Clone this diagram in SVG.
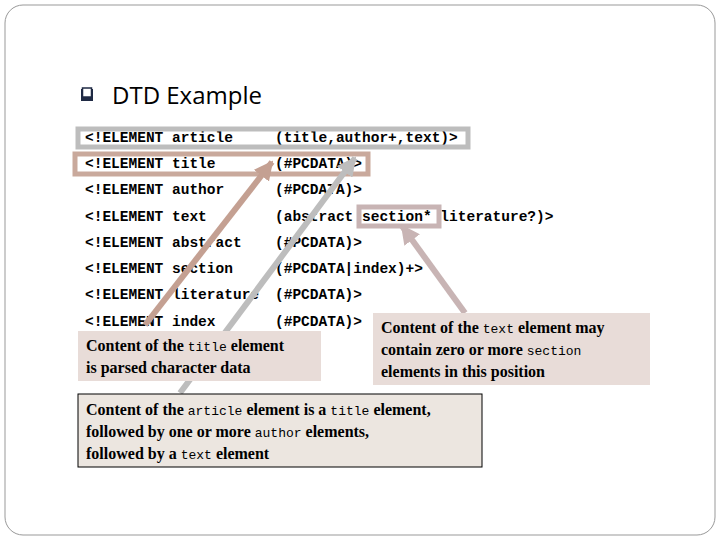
<svg xmlns="http://www.w3.org/2000/svg" width="720" height="540" viewBox="0 0 720 540">
<style>
.code{font-family:"Liberation Mono",monospace;font-weight:bold;font-size:14.5px;fill:#000}
.note{font-family:"Liberation Serif",serif;font-weight:bold;font-size:16px;fill:#000}
.m{font-family:"Liberation Mono",monospace;font-weight:normal;font-size:13px}
</style>
<defs>
<marker id="ht" viewBox="0 0 10 10" refX="9" refY="5" markerWidth="3.2" markerHeight="3.2" orient="auto"><path d="M0,0L10,5L0,10z" fill="#c4a092"/></marker>
<marker id="hg" viewBox="0 0 10 10" refX="9" refY="5" markerWidth="3.2" markerHeight="3.2" orient="auto"><path d="M0,0L10,5L0,10z" fill="#bdbdbd"/></marker>
<marker id="hs" viewBox="0 0 10 10" refX="9" refY="5" markerWidth="3.2" markerHeight="3.2" orient="auto"><path d="M0,0L10,5L0,10z" fill="#c8b4b4"/></marker>
</defs>
<rect x="5" y="5" width="710" height="530" rx="18" fill="#fff" stroke="#999" stroke-width="1"/>
<g id="title">
<rect x="81" y="89" width="12" height="12" fill="#1f2a44"/>
<rect x="82.5" y="88" width="9" height="9" fill="#fff" stroke="#1f2a44" stroke-width="1.5"/>
<text x="112" y="104" font-family="Open Sans,Liberation Sans,sans-serif" font-size="24" fill="#000">DTD Example</text>
</g>
<g id="code">
<text class="code" x="85" y="142">&lt;!ELEMENT article</text><text class="code" x="275" y="142">(title,author+,text)&gt;</text>
<text class="code" x="85" y="168">&lt;!ELEMENT title</text><text class="code" x="275" y="168">(#PCDATA)&gt;</text>
<text class="code" x="85" y="194">&lt;!ELEMENT author</text><text class="code" x="275" y="194">(#PCDATA)&gt;</text>
<text class="code" x="85" y="221">&lt;!ELEMENT text</text><text class="code" x="275" y="221">(abstract section* literature?)&gt;</text>
<text class="code" x="85" y="247">&lt;!ELEMENT abstract</text><text class="code" x="275" y="247">(#PCDATA)&gt;</text>
<text class="code" x="85" y="273">&lt;!ELEMENT section</text><text class="code" x="275" y="273">(#PCDATA|index)+&gt;</text>
<text class="code" x="85" y="299">&lt;!ELEMENT literature</text><text class="code" x="275" y="299">(#PCDATA)&gt;</text>
<text class="code" x="85" y="326">&lt;!ELEMENT index</text><text class="code" x="275" y="326">(#PCDATA)&gt;</text>
</g>
<g id="highlights" fill="none">
<rect x="78" y="129" width="390" height="18" stroke="#bdbdbd" stroke-width="5"/>
<rect x="75" y="154" width="293" height="20" stroke="#c9a99c" stroke-width="5"/>
<rect x="359" y="207" width="80" height="19" stroke="#c8b4b4" stroke-width="5"/>
</g>
<g id="connectors" stroke-width="6" fill="none">
<line x1="145" y1="325" x2="272" y2="162" stroke="#c4a092" marker-end="url(#ht)"/>
<line x1="180" y1="393" x2="355" y2="158" stroke="#bdbdbd" marker-end="url(#hg)"/>
<line x1="465" y1="313" x2="402" y2="226" stroke="#c8b4b4" marker-end="url(#hs)"/>
</g>
<g id="note-title">
<rect x="78" y="331" width="243" height="50" fill="#e8dcd8"/>
<text class="note" x="86" y="351">Content of the <tspan class="m">title</tspan> element</text>
<text class="note" x="86" y="373">is parsed character data</text>
</g>
<g id="note-text">
<rect x="373" y="313" width="277" height="72" fill="#e8dcd8"/>
<text class="note" x="381" y="333">Content of the <tspan class="m">text</tspan> element may</text>
<text class="note" x="381" y="355">contain zero or more <tspan class="m">section</tspan></text>
<text class="note" x="381" y="377">elements in this position</text>
</g>
<g id="note-article">
<rect x="78" y="394" width="404" height="73" fill="#ece6e0" stroke="#000" stroke-width="1"/>
<text class="note" x="86" y="415">Content of the <tspan class="m">article</tspan> element is a <tspan class="m">title</tspan> element,</text>
<text class="note" x="86" y="437">followed by one or more <tspan class="m">author</tspan> elements,</text>
<text class="note" x="86" y="459">followed by a <tspan class="m">text</tspan> element</text>
</g>
</svg>
